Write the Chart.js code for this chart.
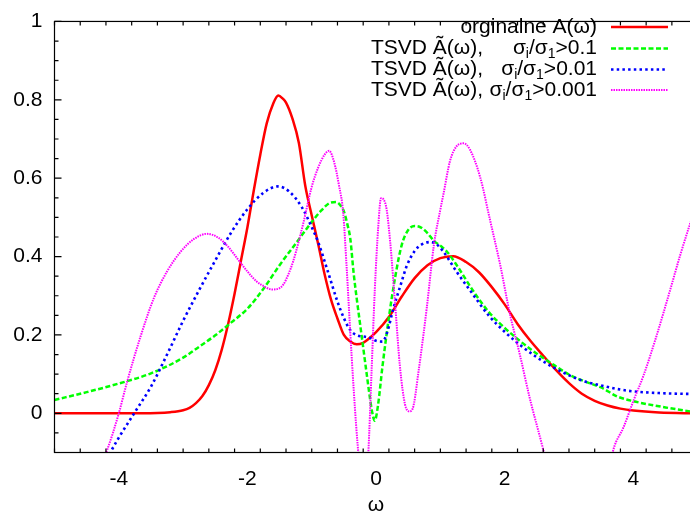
<!DOCTYPE html>
<html><head><meta charset="utf-8">
<script src="https://cdn.jsdelivr.net/npm/chart.js@4.4.1/dist/chart.umd.min.js"></script>
<style>
html,body{margin:0;padding:0;overflow:hidden;background:#fff;width:690px;height:519px}
canvas{display:block}
</style></head>
<body>
<canvas id="c" width="700" height="519" style="width:700px;height:519px"></canvas>
<script>
// ---- data ----
const xTicks = [-4, -2, 0, 2, 4];
const yTicks = [0, 0.2, 0.4, 0.6, 0.8, 1];

const redOmega  = [-5,-4,-3.4,-3.2,-3.0,-2.9,-2.8,-2.7,-2.6,-2.5,-2.4,-2.3,-2.2,-2.1,-2.0,-1.9,-1.8,-1.7,-1.6,-1.52,-1.45,-1.4,-1.3,-1.2,-1.1,-1.0,-0.9,-0.8,-0.7,-0.6,-0.5,-0.4,-0.3,-0.2,-0.1,0,0.2,0.4,0.6,0.8,1.0,1.2,1.4,1.6,1.8,2.0,2.2,2.4,2.6,2.8,3.0,3.2,3.4,3.6,3.8,4.0,4.4,5.0];
const redValues = [0,0,0.001,0.003,0.008,0.014,0.026,0.044,0.072,0.11,0.162,0.228,0.305,0.39,0.475,0.57,0.66,0.74,0.79,0.811,0.803,0.793,0.752,0.69,0.58,0.505,0.432,0.355,0.29,0.242,0.2,0.183,0.176,0.18,0.192,0.207,0.246,0.298,0.345,0.378,0.396,0.401,0.386,0.36,0.322,0.278,0.228,0.185,0.147,0.11,0.077,0.05,0.032,0.02,0.012,0.007,0.002,0.0];

const greenOmega  = [-5,-4.5,-4,-3.5,-3,-2.75,-2.5,-2.25,-2,-1.75,-1.5,-1.25,-1,-0.85,-0.7,-0.62,-0.55,-0.5,-0.45,-0.4,-0.35,-0.3,-0.25,-0.2,-0.15,-0.1,-0.06,-0.02,0.03,0.1,0.2,0.3,0.4,0.5,0.6,0.7,0.8,0.9,1.0,1.1,1.25,1.5,1.75,2.0,2.25,2.5,2.75,3.0,3.25,3.5,3.75,4.0,4.5,5.0];
const greenValues = [0.034,0.054,0.076,0.102,0.142,0.17,0.199,0.232,0.267,0.318,0.378,0.433,0.488,0.518,0.538,0.539,0.53,0.515,0.485,0.445,0.36,0.292,0.23,0.168,0.106,0.045,0.003,-0.019,0.02,0.12,0.245,0.35,0.43,0.468,0.478,0.474,0.46,0.44,0.428,0.413,0.379,0.315,0.259,0.218,0.183,0.152,0.125,0.099,0.081,0.066,0.043,0.031,0.015,0.002];

const blueOmega  = [-4.15,-4.0,-3.75,-3.5,-3.25,-3.0,-2.75,-2.5,-2.25,-2.0,-1.75,-1.52,-1.35,-1.15,-1.0,-0.9,-0.75,-0.6,-0.5,-0.4,-0.3,-0.2,-0.1,0.0,0.1,0.17,0.27,0.37,0.48,0.6,0.7,0.85,0.95,1.05,1.25,1.5,1.75,2.0,2.25,2.5,2.75,3.0,3.25,3.5,3.75,4.0,4.5,5.0];
const blueValues = [-0.105,-0.062,0.003,0.068,0.15,0.236,0.315,0.39,0.462,0.521,0.563,0.579,0.566,0.525,0.475,0.437,0.362,0.285,0.243,0.212,0.199,0.196,0.193,0.185,0.183,0.205,0.268,0.321,0.377,0.414,0.43,0.437,0.43,0.412,0.362,0.305,0.25,0.208,0.173,0.143,0.118,0.097,0.081,0.071,0.062,0.056,0.051,0.049];

const magentaOmega  = [-4.3,-4.18,-4.0,-3.87,-3.66,-3.45,-3.25,-3.04,-2.83,-2.63,-2.45,-2.3,-2.12,-2.0,-1.86,-1.72,-1.62,-1.52,-1.44,-1.36,-1.29,-1.2,-1.13,-1.0,-0.9,-0.8,-0.73,-0.65,-0.58,-0.51,-0.46,-0.38,-0.31,-0.26,-0.19,-0.12,-0.07,-0.02,0.035,0.077,0.12,0.165,0.22,0.3,0.37,0.45,0.52,0.57,0.66,0.79,0.9,1.0,1.05,1.15,1.25,1.36,1.46,1.62,1.77,1.93,2.08,2.24,2.39,2.6,2.9,3.2,3.5,3.69,3.85,4.0,4.16,4.36,4.57,4.73,4.88,5.0];
const magentaValues = [-0.14,-0.093,0.0,0.081,0.197,0.296,0.362,0.412,0.445,0.458,0.448,0.425,0.387,0.362,0.337,0.322,0.316,0.318,0.329,0.356,0.387,0.44,0.486,0.578,0.627,0.66,0.67,0.64,0.585,0.51,0.38,0.147,-0.03,-0.13,-0.24,-0.1,0.106,0.313,0.478,0.549,0.545,0.52,0.437,0.271,0.122,0.023,0.005,0.012,0.106,0.271,0.43,0.52,0.561,0.644,0.681,0.689,0.673,0.602,0.495,0.379,0.255,0.147,0.039,-0.093,-0.3,-0.38,-0.25,-0.093,-0.035,0.031,0.097,0.197,0.313,0.404,0.482,0.54];

const legendPrefix = ['', 'TSVD Ã(ω),', 'TSVD Ã(ω),', 'TSVD Ã(ω),'];
const legendSuffix = [
  [{t:'orginalne A(ω)'}],
  [{t:'σ'},{t:'i',sub:true},{t:'/σ'},{t:'1',sub:true},{t:'>0.1'}],
  [{t:'σ'},{t:'i',sub:true},{t:'/σ'},{t:'1',sub:true},{t:'>0.01'}],
  [{t:'σ'},{t:'i',sub:true},{t:'/σ'},{t:'1',sub:true},{t:'>0.001'}]
];
const xTitle = 'ω';

// ---- chart ----
const FONT = '"Liberation Sans", Arial, Helvetica, sans-serif';
const pts = (xs, ys) => xs.map((x, i) => ({x: x, y: ys[i]}));

const styles = [
  {color:'#ff0000', width:2.5, dash:[], order:4},
  {color:'#00ff00', width:2.5, dash:[5,2.5], order:3},
  {color:'#0000ff', width:2.6, dash:[2.5,3.2], order:2},
  {color:'#ff00ff', width:2.0, dash:[1.5,1], order:1}
];
const series = [[redOmega, redValues],[greenOmega, greenValues],[blueOmega, blueValues],[magentaOmega, magentaValues]];

const datasets = series.map((s, i) => ({
  data: pts(s[0], s[1]),
  borderColor: styles[i].color,
  borderWidth: styles[i].width,
  borderDash: styles[i].dash,
  borderCapStyle: 'butt',
  pointRadius: 0,
  fill: false,
  cubicInterpolationMode: 'monotone',
  clip: 0,
  order: styles[i].order
}));

const framePlugin = {
  id: 'frame',
  afterDraw(chart) {
    const ctx = chart.ctx, a = chart.chartArea;
    const xs = chart.scales.x, ys = chart.scales.y;
    ctx.save();
    ctx.strokeStyle = '#000';
    ctx.lineWidth = 1.2;
    ctx.strokeRect(a.left, a.top, a.right - a.left, a.bottom - a.top);
    ctx.beginPath();
    for (let k = 0; k <= 25; k++) {
      const v = -5 + k * 0.4;
      const isMajor = xTicks.some(t => Math.abs(t - v) < 1e-6);
      const L = isMajor ? 7 : 4;
      const px = xs.getPixelForValue(v);
      ctx.moveTo(px, a.bottom); ctx.lineTo(px, a.bottom - L);
      ctx.moveTo(px, a.top); ctx.lineTo(px, a.top + L);
    }
    for (let k = 0; k <= 22; k++) {
      const v = -0.1 + k * 0.05;
      const isMajor = yTicks.some(t => Math.abs(t - v) < 1e-6);
      const L = isMajor ? 7 : 4;
      const py = ys.getPixelForValue(v);
      ctx.moveTo(a.left, py); ctx.lineTo(a.left + L, py);
      ctx.moveTo(a.right, py); ctx.lineTo(a.right - L, py);
    }
    ctx.stroke();

    // legend
    const rowsY = [27, 48.5, 69.5, 90];
    const textRight = 597, prefixLeft = 371, lineL = 611, lineR = 668;
    const big = '21px ' + FONT, small = '14px ' + FONT;
    ctx.textBaseline = 'middle';
    ctx.fillStyle = '#000';
    for (let r = 0; r < 4; r++) {
      const y = rowsY[r];
      let w = 0;
      legendSuffix[r].forEach(run => { ctx.font = run.sub ? small : big; w += ctx.measureText(run.t).width; });
      let x = textRight - w;
      ctx.textAlign = 'left';
      legendSuffix[r].forEach(run => {
        ctx.font = run.sub ? small : big;
        ctx.fillText(run.t, x, run.sub ? y + 6 : y);
        x += ctx.measureText(run.t).width;
      });
      if (legendPrefix[r]) { ctx.font = big; ctx.fillText(legendPrefix[r], prefixLeft, y); }
      const st = styles[r];
      ctx.strokeStyle = st.color; ctx.lineWidth = st.width; ctx.setLineDash(st.dash); ctx.lineCap = 'butt';
      ctx.beginPath(); ctx.moveTo(lineL, y); ctx.lineTo(lineR, y); ctx.stroke();
      ctx.setLineDash([]);
    }
    ctx.restore();
  }
};

new Chart(document.getElementById('c'), {
  type: 'line',
  data: { datasets: datasets },
  plugins: [framePlugin],
  options: {
    responsive: false,
    animation: false,
    layout: { padding: { top: 10, right: 2.4, left: 0, bottom: 0 } },
    plugins: { legend: { display: false }, tooltip: { enabled: false } },
    scales: {
      x: {
        type: 'linear', min: -5, max: 5,
        afterBuildTicks: s => { s.ticks = xTicks.map(v => ({value: v})); },
        afterFit: s => { s.height = 66.5; },
        grid: { display: false, drawTicks: false },
        border: { display: false },
        ticks: { color: '#000', font: { family: FONT, size: 21, lineHeight: 1.0 }, padding: 16, maxRotation: 0, autoSkip: false,
                 callback: v => String(v) },
        title: { display: true, text: xTitle, color: '#000', font: { family: FONT, size: 21, lineHeight: 1.0 }, padding: { top: 0, bottom: 3 } }
      },
      y: {
        type: 'linear', min: -0.1, max: 1,
        afterBuildTicks: s => { s.ticks = yTicks.map(v => ({value: v})); },
        afterFit: s => { s.width = 54.5; },
        grid: { display: false, drawTicks: false },
        border: { display: false },
        ticks: { color: '#000', font: { family: FONT, size: 21, lineHeight: 0.9 }, padding: 12, autoSkip: false,
                 callback: v => String(Math.round(v * 10) / 10) }
      }
    }
  }
});
</script>
</body></html>
